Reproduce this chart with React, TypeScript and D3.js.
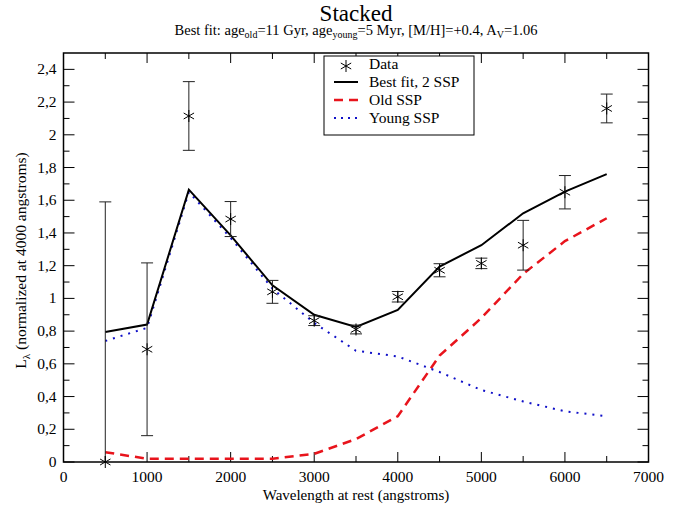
import React, { useEffect, useRef } from 'react';
import * as d3 from 'd3';

// wavelengths (angstroms)
const waves = [500, 1000, 1500, 2000, 2500, 3000, 3500, 4000, 4500, 5000, 5500, 6000, 6500];

// observed points and their errors
const dataVals = [0.0, 0.689, 2.115, 1.485, 1.04, 0.864, 0.81, 1.01, 1.172, 1.214, 1.325, 1.649, 2.161];
const dataErrs = [1.59, 0.528, 0.21, 0.107, 0.07, 0.03, 0.027, 0.032, 0.04, 0.032, 0.152, 0.102, 0.088];

// model curves
const bestFit = [0.795, 0.84, 1.665, 1.385, 1.08, 0.9, 0.825, 0.93, 1.195, 1.325, 1.52, 1.653, 1.76];
const oldSSP = [0.06, 0.02, 0.02, 0.02, 0.02, 0.05, 0.14, 0.28, 0.65, 0.88, 1.15, 1.35, 1.49];
const youngSSP = [0.74, 0.82, 1.65, 1.37, 1.06, 0.85, 0.68, 0.645, 0.55, 0.44, 0.37, 0.31, 0.28];

const xTicks = [0, 1000, 2000, 3000, 4000, 5000, 6000, 7000];
const yTicks = [0, 0.2, 0.4, 0.6, 0.8, 1, 1.2, 1.4, 1.6, 1.8, 2, 2.2, 2.4];
const legendLabels = ['Data', 'Best fit, 2 SSP', 'Old SSP', 'Young SSP'];

const W = 699;
const H = 508;
const left = 63.5, right = 648.5, top = 53, bottom = 462;
const fam = "'Liberation Serif', 'Times New Roman', Tinos, FreeSerif";

const App = () => {
  const ref = useRef<SVGSVGElement>(null);

  useEffect(() => {
    const svg = d3.select(ref.current);
    svg.selectAll('*').remove();

    const x = d3.scaleLinear().domain([0, 7000]).range([left, right]);
    const y = d3.scaleLinear().domain([0, 2.5]).range([bottom, top]);
    const line = d3.line<number>().x((d, i) => x(waves[i])).y(d => y(d));
    const fmtY = (v: number) => (Math.round(v * 10) / 10).toString().replace('.', ',');

    svg.append('defs').append('clipPath').attr('id', 'plotclip')
      .append('rect').attr('x', left).attr('y', top)
      .attr('width', right - left).attr('height', bottom - top);

    const addText = (g: any, x0: number, y0: number, size: number, anchor: string) =>
      g.append('text').attr('x', x0).attr('y', y0).attr('font-size', size)
        .attr('text-anchor', anchor).style('font-family', fam).attr('fill', '#000');

    // titles
    addText(svg, (left + right) / 2, 21, 23, 'middle').text('Stacked');
    const sub = addText(svg, (left + right) / 2, 35, 14.5, 'middle');
    sub.append('tspan').text('Best fit: age');
    sub.append('tspan').attr('font-size', 10).attr('dy', 3).text('old');
    sub.append('tspan').attr('dy', -3).text('=11 Gyr, age');
    sub.append('tspan').attr('font-size', 10).attr('dy', 3).text('young');
    sub.append('tspan').attr('dy', -3).text('=5 Myr, [M/H]=+0.4, A');
    sub.append('tspan').attr('font-size', 10).attr('dy', 3).text('V');
    sub.append('tspan').attr('dy', -3).text('=1.06');

    // ticks, inward on all four sides
    const tk = svg.append('g').attr('stroke', '#000').attr('stroke-width', 1);
    xTicks.forEach(t => {
      tk.append('line').attr('x1', x(t)).attr('x2', x(t)).attr('y1', bottom).attr('y2', bottom - 10);
      tk.append('line').attr('x1', x(t)).attr('x2', x(t)).attr('y1', top).attr('y2', top + 10);
    });
    d3.range(500, 7000, 1000).forEach(t => {
      tk.append('line').attr('x1', x(t)).attr('x2', x(t)).attr('y1', bottom).attr('y2', bottom - 6);
      tk.append('line').attr('x1', x(t)).attr('x2', x(t)).attr('y1', top).attr('y2', top + 6);
    });
    yTicks.forEach(t => {
      tk.append('line').attr('x1', left).attr('x2', left + 11).attr('y1', y(t)).attr('y2', y(t));
      tk.append('line').attr('x1', right).attr('x2', right - 11).attr('y1', y(t)).attr('y2', y(t));
    });
    d3.range(0.1, 2.5, 0.2).forEach(t => {
      tk.append('line').attr('x1', left).attr('x2', left + 6).attr('y1', y(t)).attr('y2', y(t));
      tk.append('line').attr('x1', right).attr('x2', right - 6).attr('y1', y(t)).attr('y2', y(t));
    });

    // tick labels
    xTicks.forEach(t => addText(svg, x(t), bottom + 20, 15.5, 'middle').text(String(t)));
    yTicks.forEach(t => addText(svg, left - 7, y(t) + 5, 15.5, 'end').text(fmtY(t)));

    // axis titles
    addText(svg, (left + right) / 2, bottom + 38, 15, 'middle').text('Wavelength at rest (angstroms)');
    const yl = addText(svg, 0, 0, 15.5, 'middle')
      .attr('transform', `translate(26, ${(top + bottom) / 2 + 3}) rotate(-90)`);
    yl.append('tspan').text('L');
    yl.append('tspan').attr('font-size', 11).attr('dy', 4).text('λ');
    yl.append('tspan').attr('dy', -4).text(' (normalized at 4000 angstroms)');

    // model curves
    const curves = svg.append('g').attr('clip-path', 'url(#plotclip)').attr('fill', 'none');
    curves.append('path').attr('d', line(oldSSP)).attr('stroke', '#e8141c')
      .attr('stroke-width', 2.5).attr('stroke-dasharray', '9 6');
    curves.append('path').attr('d', line(youngSSP)).attr('stroke', '#1010c8')
      .attr('stroke-width', 2).attr('stroke-dasharray', '2 6');
    curves.append('path').attr('d', line(bestFit)).attr('stroke', '#000').attr('stroke-width', 2);

    // asterisk marker
    const star = (g: any, cx: number, cy: number, r: number) => {
      const a = r * Math.cos(Math.PI / 6), b = r * Math.sin(Math.PI / 6);
      const s = g.append('g').attr('stroke', '#000').attr('stroke-width', 1);
      s.append('line').attr('x1', cx).attr('y1', cy - r).attr('x2', cx).attr('y2', cy + r);
      s.append('line').attr('x1', cx - a).attr('y1', cy - b).attr('x2', cx + a).attr('y2', cy + b);
      s.append('line').attr('x1', cx - a).attr('y1', cy + b).attr('x2', cx + a).attr('y2', cy - b);
    };

    // data with error bars
    const eb = svg.append('g').attr('stroke', '#222').attr('stroke-width', 1);
    waves.forEach((w, i) => {
      const hi = dataVals[i] + dataErrs[i];
      const lo = dataVals[i] - dataErrs[i];
      const cx = x(w);
      eb.append('line').attr('x1', cx).attr('x2', cx).attr('y1', y(hi)).attr('y2', y(Math.max(lo, 0)));
      eb.append('line').attr('x1', cx - 6).attr('x2', cx + 6).attr('y1', y(hi)).attr('y2', y(hi));
      if (lo >= 0) eb.append('line').attr('x1', cx - 6).attr('x2', cx + 6).attr('y1', y(lo)).attr('y2', y(lo));
    });
    waves.forEach((w, i) => star(svg, x(w), y(dataVals[i]), 6));

    // frame
    svg.append('rect').attr('x', left).attr('y', top).attr('width', right - left)
      .attr('height', bottom - top).attr('fill', 'none').attr('stroke', '#000').attr('stroke-width', 1.5);

    // legend
    const legY = [68, 86, 104, 122];
    const legX = 334, legTextX = 369;
    svg.append('rect').attr('x', 324).attr('y', 56).attr('width', 150).attr('height', 79)
      .attr('fill', '#fff').attr('stroke', '#000').attr('stroke-width', 1);
    star(svg, legX + 12, legY[0] - 2, 6);
    const legLine = (i: number, color: string, width: number, dash: string | null) =>
      svg.append('line').attr('x1', legX).attr('x2', legX + 24)
        .attr('y1', legY[i] - 4).attr('y2', legY[i] - 4)
        .attr('stroke', color).attr('stroke-width', width).attr('stroke-dasharray', dash);
    legLine(1, '#000', 2, null);
    legLine(2, '#e8141c', 2.5, '9 6');
    legLine(3, '#1010c8', 2, '2 5');
    legendLabels.forEach((s, i) => addText(svg, legTextX, legY[i] + 1, 15.5, 'start').text(s));
  }, []);

  return (
    <svg ref={ref} width={W} height={H}
      style={{ position: 'absolute', left: 0, top: 0, background: '#fff' }} />
  );
};

export default App;
